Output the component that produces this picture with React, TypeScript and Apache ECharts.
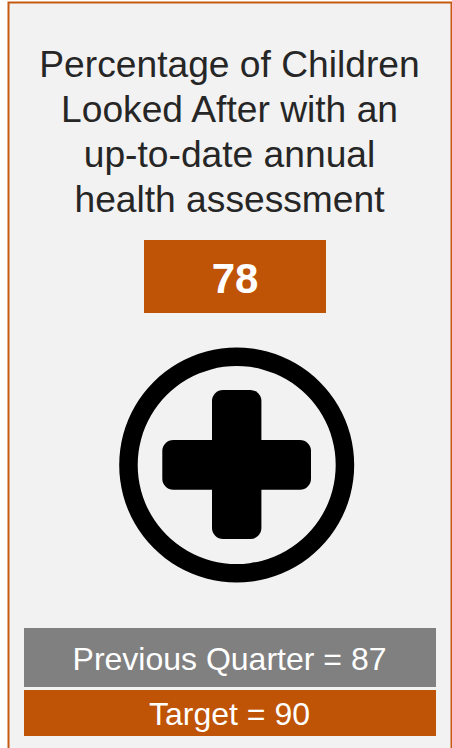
import React, { useEffect, useRef } from "react";
import * as echarts from "echarts";

// Indicator card: title, current value, icon, previous quarter and target.
const titleLines = [
  "Percentage of Children",
  "Looked After with an",
  "up-to-date annual",
  "health assessment",
];
const currentValue = [78];
const previousQuarter = [87];
const target = [90];

const ORANGE = "#BF5306";
const FONT = '"Liberation Sans", Arial, sans-serif';

export default function App() {
  const ref = useRef<HTMLDivElement>(null);

  useEffect(() => {
    const chart = echarts.init(ref.current!, null, { renderer: "svg" });
    const centerText = (text: string, x: number, y: number, size: number, fill: string, weight = "normal") => ({
      type: "text",
      x,
      y,
      style: { text, fill, font: `${weight} ${size}px ${FONT}`, textAlign: "center", textVerticalAlign: "middle" },
    });
    chart.setOption({
      animation: false,
      backgroundColor: "#ffffff",
      graphic: {
        elements: [
          // card
          { type: "rect", shape: { x: 8.5, y: 2.5, width: 443, height: 760 }, style: { fill: "#F2F2F2", stroke: "#C55A11", lineWidth: 2 } },
          // title
          ...titleLines.map((line, i) => centerText(line, 229.5, 64 + i * 45, 37.2, "#262626")),
          // current value
          { type: "rect", shape: { x: 144, y: 240, width: 182, height: 73 }, style: { fill: ORANGE } },
          centerText(String(currentValue[0]), 235, 278, 42, "#FFFFFF", "bold"),
          // health icon
          { type: "ring", shape: { cx: 236.7, cy: 465, r: 117.5, r0: 99 }, style: { fill: "#000000" } },
          { type: "rect", shape: { x: 212, y: 390, width: 49.4, height: 149, r: 11 }, style: { fill: "#000000" } },
          { type: "rect", shape: { x: 162.3, y: 440, width: 148.7, height: 49.7, r: 11 }, style: { fill: "#000000" } },
          // comparison bars
          { type: "rect", shape: { x: 24, y: 628, width: 412, height: 59 }, style: { fill: "#808080" } },
          centerText(`Previous Quarter = ${previousQuarter[0]}`, 229.5, 659, 32, "#FFFFFF"),
          { type: "rect", shape: { x: 24, y: 690, width: 412, height: 46 }, style: { fill: ORANGE } },
          centerText(`Target = ${target[0]}`, 229.5, 714, 32, "#FFFFFF"),
        ],
      },
    });
    return () => chart.dispose();
  }, []);

  return <div ref={ref} style={{ position: "absolute", left: 0, top: 0, width: 452, height: 748 }} />;
}
